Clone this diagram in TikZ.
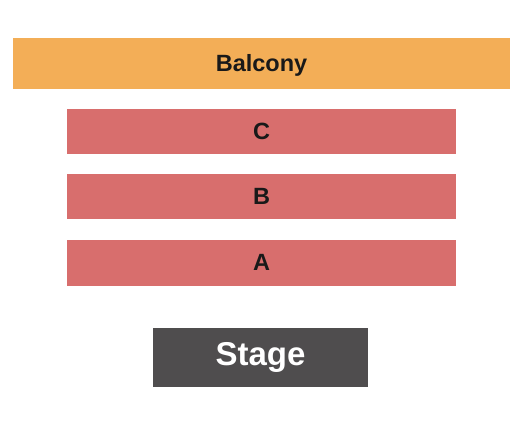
\documentclass[tikz,border=0pt]{standalone}
\usepackage{fontspec}
\setmainfont{Liberation Sans}
\usetikzlibrary{positioning}
\definecolor{balconyorange}{HTML}{F3AE57}
\definecolor{rowred}{HTML}{D86E6D}
\definecolor{stagegray}{HTML}{4F4D4E}

\begin{document}
\begin{tikzpicture}[x=1pt,y=-1pt,node distance=65pt,on grid,
  section/.style={inner sep=0pt,font=\fontsize{23.5}{28}\selectfont\bfseries,
    text height=16.8pt,text depth=0pt,text=black!90},
  row/.style={section,fill=rowred,minimum width=389pt,minimum height=45pt}]
\useasboundingbox (0,0) rectangle (525,425);
\node[section,fill=balconyorange,minimum width=497pt,minimum height=51pt] (balcony) at (261.5,63.5) {Balcony};
\node[row] (rowC) at (261.5,131.5) {C};
\node[row] (rowB) [below=of rowC] {B};
\node[row,minimum height=46pt] (rowA) [below=66pt of rowB] {A};
\node[section,fill=stagegray,text=white,font=\fontsize{33}{38}\selectfont\bfseries,
  text height=23.6pt,text depth=7pt,minimum width=215pt,minimum height=59pt] (stage) [below=95pt of rowA,xshift=-1pt] {Stage};
\end{tikzpicture}
\end{document}
